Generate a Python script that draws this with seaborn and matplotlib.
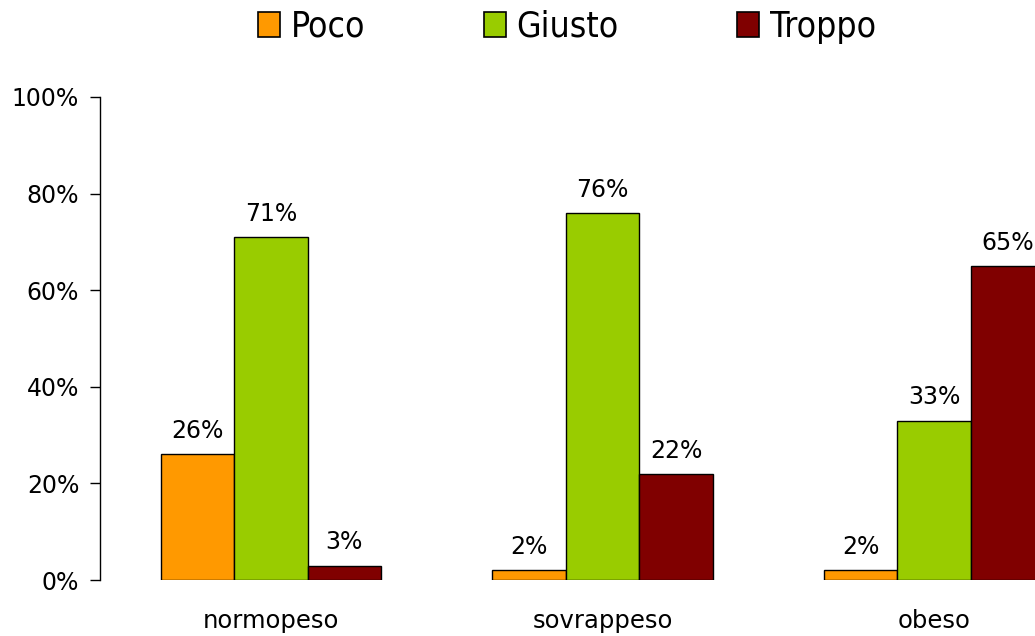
import matplotlib
matplotlib.use("Agg")
import matplotlib.pyplot as plt
import seaborn as sns
import pandas as pd
from matplotlib.ticker import PercentFormatter
from matplotlib.patches import Patch

# Weight categories and share of answers per option
categories = ["normopeso", "sovrappeso", "obeso"]
series = ["Poco", "Giusto", "Troppo"]
poco = [26, 2, 2]
giusto = [71, 76, 33]
troppo = [3, 22, 65]
colors = ["#FF9900", "#99CC00", "#800000"]
y_ticks = [0, 20, 40, 60, 80, 100]

rows = []
for name, vals in zip(series, [poco, giusto, troppo]):
    for cat, v in zip(categories, vals):
        rows.append({"categoria": cat, "risposta": name, "valore": v})
df = pd.DataFrame(rows)

sns.set_theme(style="white")
plt.rcParams["font.family"] = ["DejaVu Sans"]

fig = plt.figure(figsize=(10.35, 6.36), dpi=100)
ax = fig.add_axes([100 / 1035, 56 / 636, 935 / 1035, 483 / 636])

sns.barplot(data=df, x="categoria", y="valore", hue="risposta",
            order=categories, hue_order=series, palette=colors,
            width=0.665, edgecolor="black", linewidth=1.0,
            saturation=1.0, ax=ax, legend=False)

for cont in ax.containers:
    ax.bar_label(cont, fmt="%d%%", padding=8, fontsize=17, color="black")

ax.set_ylim(0, 100)
ax.set_xlim(-0.515, 2.304)
ax.set_yticks(y_ticks)
ax.yaxis.set_major_formatter(PercentFormatter(decimals=0))
ax.set_xlabel("")
ax.set_ylabel("")
for side in ["top", "right", "bottom"]:
    ax.spines[side].set_visible(False)
ax.spines["left"].set_color("black")
ax.spines["left"].set_linewidth(1.0)
ax.tick_params(axis="y", which="major", left=True, length=7, width=1,
               color="black", labelsize=17, pad=8, labelcolor="black")
ax.tick_params(axis="x", bottom=False, labelsize=17.5, pad=15, labelcolor="black")

handles = [Patch(facecolor=c, edgecolor="black", linewidth=1.2) for c in colors]
leg = fig.legend(handles, series, loc="center", bbox_to_anchor=(0.548, 0.958),
                 ncol=3, frameon=False, columnspacing=3.35, handlelength=0.62,
                 handleheight=0.7, handletextpad=0.3,
                 prop={"family": "DejaVu Sans", "stretch": "condensed", "size": 25.5})
for t in leg.get_texts():
    t.set_color("black")

fig.savefig("out.png", dpi=100)
